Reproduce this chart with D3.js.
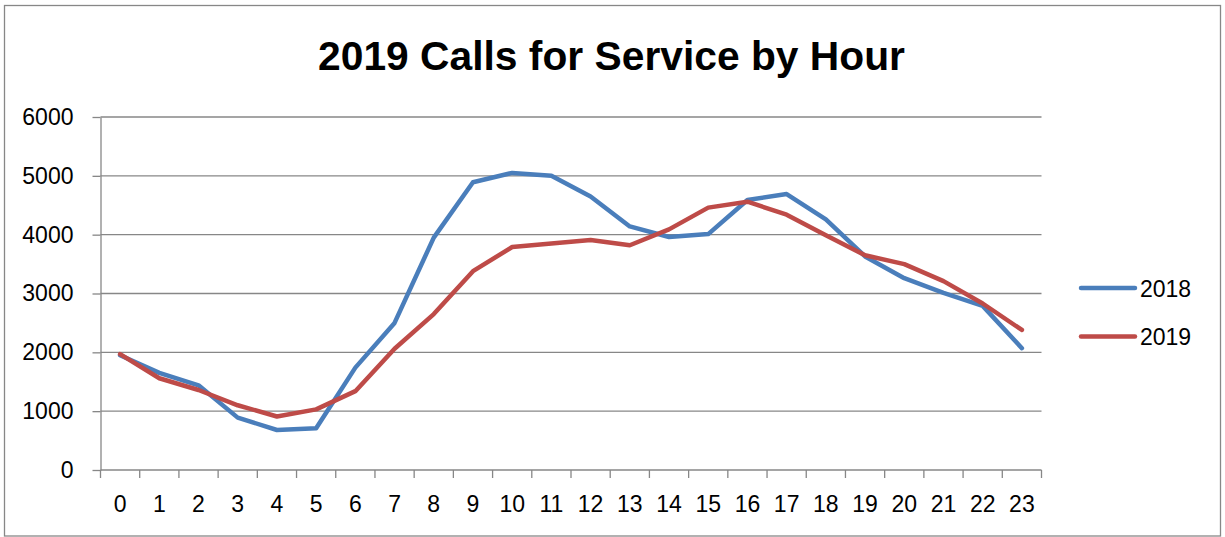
<!DOCTYPE html>
<html lang="en">
<head>
<meta charset="UTF-8">
<script src="https://cdn.jsdelivr.net/npm/d3@7"></script>
<style>
    body { margin: 0; background: white; }
    svg text { font-family: "Liberation Sans", Arial, sans-serif; fill: #000; }
    .grid line { stroke: #878787; stroke-width: 1.3; }
    .axis path, .axis line { stroke: #878787; stroke-width: 1.3; }
</style>
</head>
<body>
<svg id="chart" width="1225" height="537"></svg>
<script>
    // chart data
    var hours = ["0","1","2","3","4","5","6","7","8","9","10","11","12","13","14","15","16","17","18","19","20","21","22","23"];
    var calls2018 = [1950, 1650, 1440, 890, 680, 710, 1740, 2500, 3950, 4890, 5050, 5000, 4650, 4140, 3960, 4010, 4590, 4690, 4260, 3630, 3260, 3010, 2790, 2070];
    var calls2019 = [1970, 1560, 1360, 1100, 910, 1030, 1340, 2060, 2650, 3380, 3790, 3850, 3910, 3820, 4090, 4460, 4560, 4340, 3990, 3650, 3500, 3210, 2830, 2380];
    var yTicks = [0, 1000, 2000, 3000, 4000, 5000, 6000];
    var seriesNames = ["2018", "2019"];
    var seriesColors = ["#4a7ebb", "#be4b48"];

    var svg = d3.select("#chart");

    // outer border
    svg.append("rect")
        .attr("x", 4.5).attr("y", 5.5)
        .attr("width", 1216).attr("height", 530.5)
        .attr("fill", "white")
        .attr("stroke", "#878787")
        .attr("stroke-width", 1.3);

    var plot = { left: 100.5, right: 1041.5, top: 117, bottom: 470 };

    var x = d3.scaleBand().domain(hours).range([plot.left, plot.right]);
    var y = d3.scaleLinear().domain([0, 6000]).range([plot.bottom, plot.top]);

    // horizontal gridlines
    svg.append("g").attr("class", "grid")
        .selectAll("line")
        .data(yTicks.slice(1))
        .enter().append("line")
        .attr("x1", plot.left).attr("x2", plot.right)
        .attr("y1", function(d) { return y(d); })
        .attr("y2", function(d) { return y(d); });

    // y axis
    var gy = svg.append("g").attr("class", "axis")
        .attr("transform", "translate(" + plot.left + ",0)")
        .call(d3.axisLeft(y).tickValues(yTicks).tickFormat(d3.format("d"))
            .tickSize(8).tickPadding(19).tickSizeOuter(0));
    gy.selectAll("text").style("font-size", "23px");

    // x axis, ticks sit on band edges
    var edges = hours.map(function(h) { return x(h); }).concat([plot.right]);
    var gx = svg.append("g").attr("class", "axis");
    gx.append("line")
        .attr("x1", plot.left).attr("x2", plot.right)
        .attr("y1", plot.bottom).attr("y2", plot.bottom);
    gx.selectAll("line.tk")
        .data(edges)
        .enter().append("line").attr("class", "tk")
        .attr("x1", function(d) { return d; }).attr("x2", function(d) { return d; })
        .attr("y1", plot.bottom).attr("y2", plot.bottom + 8);
    gx.selectAll("text")
        .data(hours)
        .enter().append("text")
        .attr("x", function(d) { return x(d) + x.bandwidth() / 2; })
        .attr("y", 512)
        .attr("text-anchor", "middle")
        .style("font-size", "23px")
        .text(function(d) { return d; });

    // lines
    var line = d3.line()
        .x(function(d, i) { return x(hours[i]) + x.bandwidth() / 2; })
        .y(function(d) { return y(d); });

    [calls2018, calls2019].forEach(function(vals, i) {
        svg.append("path")
            .datum(vals)
            .attr("fill", "none")
            .attr("stroke", seriesColors[i])
            .attr("stroke-width", 4.5)
            .attr("stroke-linejoin", "round")
            .attr("stroke-linecap", "round")
            .attr("d", line);
    });

    // legend
    var legend = svg.append("g");
    seriesNames.forEach(function(name, i) {
        var ly = 288 + i * 48.5;
        legend.append("line")
            .attr("x1", 1081).attr("x2", 1135)
            .attr("y1", ly).attr("y2", ly)
            .attr("stroke", seriesColors[i])
            .attr("stroke-width", 4.5)
            .attr("stroke-linecap", "round");
        legend.append("text")
            .attr("x", 1140).attr("y", ly + 8.5)
            .style("font-size", "23px")
            .text(name);
    });

    // title, scaled to match width
    var title = svg.append("text")
        .attr("x", 611.5).attr("y", 70)
        .attr("text-anchor", "middle")
        .style("font-weight", "bold")
        .style("font-size", "40px")
        .text("2019 Calls for Service by Hour");
    var w = title.node().getComputedTextLength();
    title.style("font-size", (40 * 587 / w) + "px");
</script>
</body>
</html>
